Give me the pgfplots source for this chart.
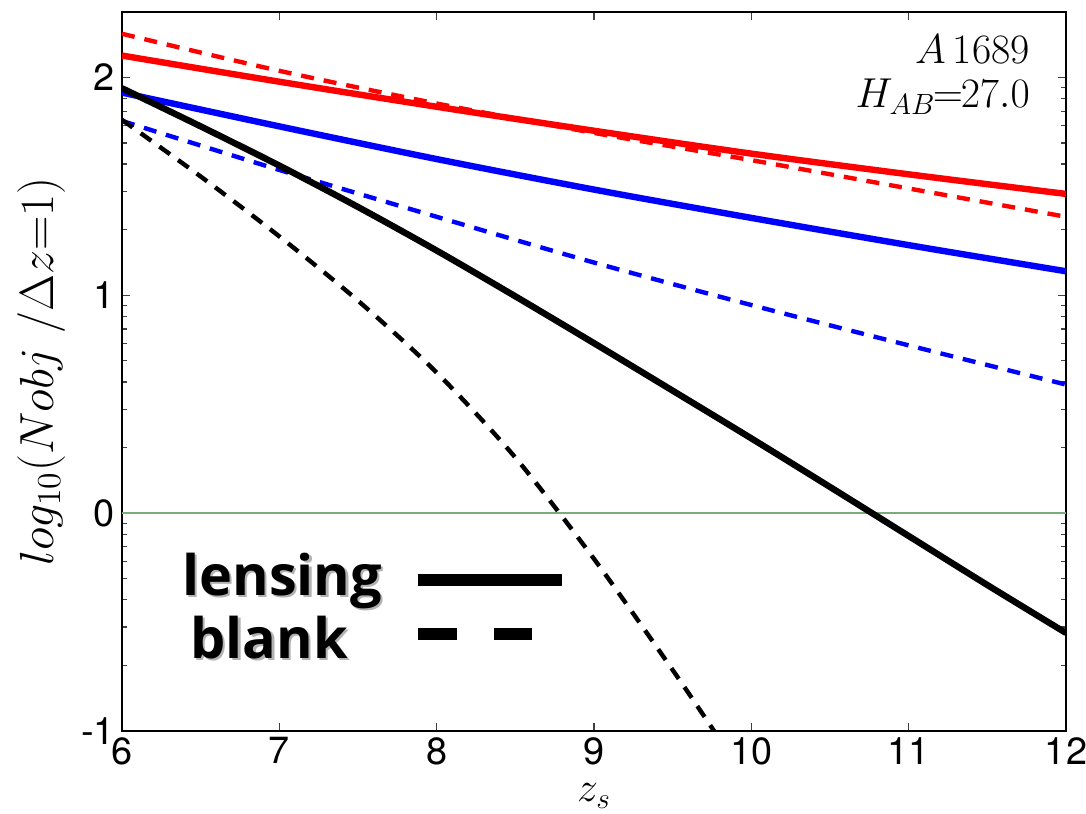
\RequirePackage{fix-cm}
\documentclass[border=0pt]{standalone}
\usepackage{fontspec}
\setsansfont{TeX Gyre Heros}
\newfontfamily\legfont{Open Sans}
\usepackage{pgfplots}
\pgfplotsset{compat=1.18}
\definecolor{zgreen}{RGB}{120,172,120}
\begin{document}
\begin{tikzpicture}
\useasboundingbox (0,0) rectangle (543bp,407bp);
\begin{axis}[
  at={(61bp,41.5bp)}, anchor=south west,
  scale only axis, width=472bp, height=359.5bp,
  xmin=6, xmax=12, ymin=-1, ymax=2.3,
  xtick={6,7,8,9,10,11,12}, xticklabels={6,7,8,9,10,11,12},
  ytick={-1,0,1,2}, yticklabels={-1,0,1,2},
  minor ytick={-0.699,-0.523,-0.398,-0.301,-0.222,-0.155,-0.097,-0.046,0.301,0.477,0.602,0.699,0.778,0.845,0.903,0.954,1.301,1.477,1.602,1.699,1.778,1.845,1.903,1.954},
  tick align=inside, major tick length=4bp, minor tick length=2.5bp,
  tick style={black!75, line width=0.6bp},
  axis line style={line width=1bp},
  ticklabel style={font=\sffamily\fontsize{19}{22}\selectfont},
  xticklabel style={inner sep=0.5bp, yshift=-2.5bp},
  xlabel={$z_s$},
  ylabel={$log_{10}(Nobj\ /\Delta z{=}1)$},
  xlabel style={at={(axis description cs:0.5,-0.073)}, anchor=north, inner sep=0pt, font=\fontsize{21}{25}\selectfont},
  ylabel style={at={(axis description cs:-0.06,0.5)}, anchor=south, inner sep=0pt, font=\fontsize{24}{28}\selectfont},
]
% zero line
\addplot[zgreen, line width=1.2bp] coordinates {(6,0) (12,0)};
% red lensing
\addplot[red, line width=3.2bp, smooth] coordinates {
(6,2.10) (7,1.98) (8,1.865) (9,1.755) (10,1.65) (11,1.555) (12,1.465)};
% red blank
\addplot[red, line width=2.2bp, dash pattern=on 6.5bp off 5bp, smooth] coordinates {
(6,2.20) (7,2.03) (8,1.88) (9,1.745) (10,1.62) (11,1.49) (12,1.36)};
% blue lensing
\addplot[blue, line width=3.2bp, smooth] coordinates {
(6,1.93) (7,1.775) (8,1.625) (9,1.485) (10,1.355) (11,1.23) (12,1.11)};
% blue blank
\addplot[blue, line width=2.2bp, dash pattern=on 6.5bp off 5bp, smooth] coordinates {
(6,1.80) (7,1.575) (8,1.36) (9,1.15) (10,0.955) (11,0.77) (12,0.59)};
% black lensing
\addplot[black, line width=3.2bp, smooth] coordinates {
(6,1.95) (6.5,1.775) (7,1.595) (7.5,1.405) (8,1.205) (8.5,0.995) (9,0.78) (9.5,0.562) (10,0.343) (10.5,0.12) (11,-0.105) (11.5,-0.33) (12,-0.55)};
% black blank
\addplot[black, line width=2.2bp, dash pattern=on 6.5bp off 5bp, smooth] coordinates {
(6,1.805) (6.5,1.545) (7,1.27) (7.5,0.975) (8,0.645) (8.5,0.255) (9,-0.21) (9.5,-0.72) (9.8,-1.04)};
% annotation
\node[anchor=base east, inner sep=0pt, font=\fontsize{21}{25}\selectfont] at (axis description cs:0.962,0.929) {$A$\,1689};
\node[anchor=base east, inner sep=0pt, font=\fontsize{21}{25}\selectfont] at (axis description cs:0.962,0.8665) {$H_{AB}\mkern-1mu{=}\mkern-1mu27.0$};
% legend
\node[anchor=base west, inner sep=0pt, text=black!30, font=\legfont\bfseries\fontsize{28}{32}\selectfont] at ([xshift=1.2bp,yshift=-1.2bp]axis description cs:0.0636,0.189) {lensing};
\node[anchor=base west, inner sep=0pt, font=\legfont\bfseries\fontsize{28}{32}\selectfont] at (axis description cs:0.0636,0.189) {lensing};
\node[anchor=base west, inner sep=0pt, text=black!30, font=\legfont\bfseries\fontsize{28}{32}\selectfont] at ([xshift=1.2bp,yshift=-1.2bp]axis description cs:0.072,0.1015) {blank};
\node[anchor=base west, inner sep=0pt, font=\legfont\bfseries\fontsize{28}{32}\selectfont] at (axis description cs:0.072,0.1015) {blank};
\draw[line width=5.8bp] (axis description cs:0.3136,0.210) -- (axis description cs:0.4661,0.210);
\draw[line width=5.8bp] (axis description cs:0.3136,0.1349) -- (axis description cs:0.3549,0.1349);
\draw[line width=5.8bp] (axis description cs:0.3941,0.1349) -- (axis description cs:0.4343,0.1349);
\end{axis}
\end{tikzpicture}
\end{document}
